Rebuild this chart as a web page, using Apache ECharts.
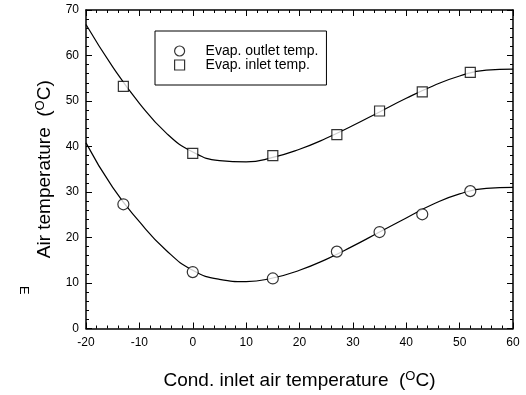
<!DOCTYPE html>
<html><head><meta charset="utf-8">
<script src="https://cdn.jsdelivr.net/npm/echarts@6/dist/echarts.min.js"></script>
<style>html,body{margin:0;padding:0;background:#fff}#c{width:526px;height:395px}</style>
</head><body><div id="c"></div>
<script>
const xPts = [-13, 0, 15, 27, 35, 43, 52];
const outletTemp = [27.3, 12.4, 11.0, 16.9, 21.2, 25.1, 30.2];
const inletTemp = [53.2, 38.5, 38.0, 42.6, 47.8, 52.0, 56.3];
const fitX = [-20, -15, -10, -5, 0, 5, 10, 15, 20, 25, 30, 35, 40, 45, 50, 55, 60];
const outletFit = [40.8, 31.0, 23.5, 17.2, 12.8, 10.8, 10.3, 11.1, 12.8, 15.2, 18.1, 21.2, 24.3, 27.3, 29.6, 30.8, 31.0];
const inletFit = [66.8, 57.5, 49.5, 43.0, 38.8, 36.9, 36.6, 37.6, 39.4, 41.8, 44.6, 47.6, 50.6, 53.3, 55.5, 56.8, 57.0];
const xTicks = [-20, 60, 10];
const yTicks = [0, 70, 10];

const pair = (xs, ys) => xs.map((x, i) => [x, ys[i]]);
const font = 'Liberation Sans, Arial, sans-serif';
const chart = echarts.init(document.getElementById('c'), null, {renderer: 'canvas'});
const axBase = () => ({
  axisLine: {show: true, onZero: false, lineStyle: {color: '#000', width: 1.5}},
  axisTick: {show: true, inside: true, length: 6, lineStyle: {color: '#000'}},
  minorTick: {show: true, splitNumber: 5, length: 3, lineStyle: {color: '#000'}},
  splitLine: {show: false}
});
const mk = {color: '#fff', borderColor: '#000', borderWidth: 1.2};
chart.setOption({
  animation: false,
  backgroundColor: '#fff',
  textStyle: {fontFamily: font},
  grid: {left: 86, right: 13, top: 10, bottom: 64},
  legend: {
    data: [
      {name: 'Evap. outlet temp.', icon: 'circle', itemStyle: mk},
      {name: 'Evap. inlet temp.', icon: 'rect', itemStyle: mk}
    ],
    orient: 'vertical', left: 155, top: 31,
    itemWidth: 10, itemHeight: 10, itemGap: 0,
    padding: [13, 8, 13, 19],
    borderColor: '#000', borderWidth: 1,
    textStyle: {fontFamily: font, fontSize: 14, color: '#000', padding: [0, 0, 0, 16]}
  },
  xAxis: [
    Object.assign({type: 'value', min: xTicks[0], max: xTicks[1], interval: xTicks[2], position: 'bottom',
      axisLabel: {color: '#000', fontSize: 12, margin: 8, fontFamily: font},
      name: 'Cond. inlet air temperature  ({sup|O}C)', nameLocation: 'middle', nameGap: 41,
      nameTextStyle: {color: '#000', fontSize: 19, fontFamily: font, rich: {sup: {fontSize: 13, fontFamily: font, padding: [0, 0, 9, 0]}}}
    }, axBase()),
    Object.assign({type: 'value', min: xTicks[0], max: xTicks[1], interval: xTicks[2], position: 'top',
      axisLabel: {show: false}}, axBase())
  ],
  yAxis: [
    Object.assign({type: 'value', min: yTicks[0], max: yTicks[1], interval: yTicks[2], position: 'left',
      axisLabel: {color: '#000', fontSize: 12, margin: 7, fontFamily: font},
      name: 'Air temperature  ({sup|O}C)', nameLocation: 'middle', nameGap: 25, nameRotate: 90,
      nameTextStyle: {color: '#000', fontSize: 19, fontFamily: font, rich: {sup: {fontSize: 13, fontFamily: font, padding: [0, 0, 9, 0]}}}
    }, axBase()),
    Object.assign({type: 'value', min: yTicks[0], max: yTicks[1], interval: yTicks[2], position: 'right',
      axisLabel: {show: false}}, axBase())
  ],
  graphic: [{
    type: 'text', left: 17, top: 286, rotation: -Math.PI / 2,
    style: {text: 'E', fontSize: 13, fill: '#000', fontFamily: font}
  }],
  series: [
    {type: 'line', data: pair(fitX, inletFit), smooth: 0.5, symbol: 'none', lineStyle: {color: '#000', width: 1.2}, z: 2, silent: true},
    {type: 'line', data: pair(fitX, outletFit), smooth: 0.5, symbol: 'none', lineStyle: {color: '#000', width: 1.2}, z: 2, silent: true},
    {name: 'Evap. outlet temp.', type: 'scatter', data: pair(xPts, outletTemp), symbol: 'circle', symbolSize: 11,
      itemStyle: mk, z: 5},
    {name: 'Evap. inlet temp.', type: 'scatter', data: pair(xPts, inletTemp), symbol: 'rect', symbolSize: 10,
      itemStyle: mk, z: 5}
  ]
});
</script></body></html>
